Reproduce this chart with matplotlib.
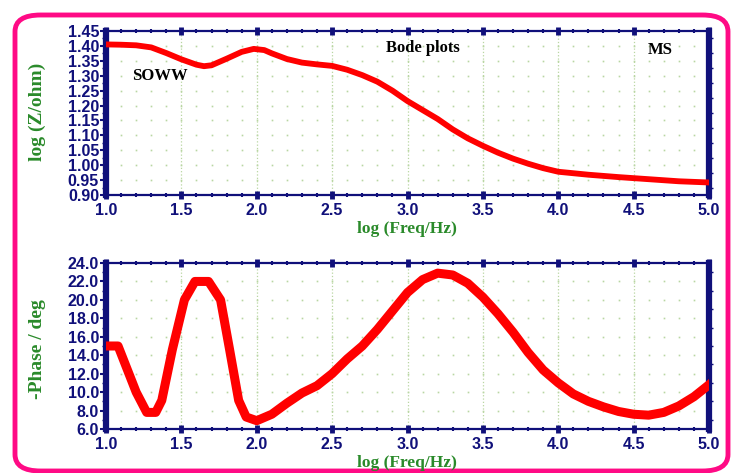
import matplotlib
matplotlib.use('Agg')
import matplotlib.pyplot as plt
import numpy as np
from matplotlib.patches import FancyBboxPatch
from matplotlib.ticker import MultipleLocator, FormatStrFormatter

# impedance modulus, log|Z| vs log f
log_freq_z = [1.0, 1.1, 1.2, 1.3, 1.4, 1.5, 1.6, 1.65, 1.7, 1.8, 1.9, 1.98,
              2.05, 2.1, 2.2, 2.3, 2.4, 2.5, 2.6, 2.7, 2.8, 2.9, 3.0, 3.1,
              3.2, 3.3, 3.4, 3.5, 3.6, 3.7, 3.8, 3.9, 4.0, 4.2, 4.4, 4.6,
              4.8, 5.0]
log_z = [1.405, 1.404, 1.402, 1.395, 1.376, 1.355, 1.337, 1.332, 1.335,
         1.357, 1.380, 1.390, 1.386, 1.375, 1.356, 1.344, 1.338, 1.333,
         1.320, 1.302, 1.280, 1.250, 1.215, 1.185, 1.155, 1.120, 1.090,
         1.065, 1.042, 1.022, 1.005, 0.990, 0.978, 0.968, 0.960, 0.953,
         0.946, 0.942]

# phase angle vs log f
log_freq_ph = [1.0, 1.08, 1.2, 1.27, 1.33, 1.37, 1.44, 1.52, 1.59, 1.68,
               1.76, 1.82, 1.88, 1.93, 2.0, 2.1, 2.2, 2.3, 2.4, 2.5, 2.6,
               2.7, 2.8, 2.9, 3.0, 3.1, 3.2, 3.3, 3.4, 3.5, 3.6, 3.7, 3.8,
               3.9, 4.0, 4.1, 4.2, 4.3, 4.4, 4.5, 4.6, 4.7, 4.8, 4.9, 5.0]
phase = [15.0, 15.0, 10.0, 7.8, 7.8, 9.1, 14.6, 20.0, 22.0, 22.0,
         20.0, 14.6, 9.1, 7.3, 6.9, 7.6, 8.8, 9.9, 10.7, 12.0, 13.6,
         15.0, 16.8, 18.8, 20.8, 22.2, 22.9, 22.7, 21.8, 20.3, 18.5, 16.5,
         14.3, 12.4, 11.0, 9.8, 9.0, 8.4, 7.9, 7.6, 7.5, 7.8, 8.5, 9.5, 10.8]

navy = '#10107a'
green = '#2a8a2a'
dotcol = '#b9d6a2'
pink = '#ff0a85'

plt.rcParams['font.family'] = 'Liberation Sans'
plt.rcParams['font.weight'] = 'bold'

fig = plt.figure(figsize=(7.32, 4.73), dpi=100)

# pink rounded frame around everything (bottom edge sits at the image edge)
frame = FancyBboxPatch((15 / 732, 2 / 473), 713 / 732, 456 / 473,
                       boxstyle="round,pad=0,rounding_size=0.035",
                       transform=fig.transFigure, facecolor='none',
                       edgecolor=pink, linewidth=3.5, clip_on=False)
fig.add_artist(frame)

ax1 = fig.add_axes([106 / 732, 1 - 195 / 473, 603 / 732, 164 / 473])
ax2 = fig.add_axes([106 / 732, 1 - 429 / 473, 603 / 732, 166 / 473])


def style_axes(ax, ymin, ymax, ystep, yminor, fmt):
    ax.set_xlim(1.0, 5.0)
    ax.set_ylim(ymin, ymax)
    ax.xaxis.set_major_locator(MultipleLocator(0.5))
    ax.xaxis.set_minor_locator(MultipleLocator(0.1))
    ax.yaxis.set_major_locator(MultipleLocator(ystep))
    ax.yaxis.set_minor_locator(MultipleLocator(yminor))
    ax.xaxis.set_major_formatter(FormatStrFormatter('%.1f'))
    ax.yaxis.set_major_formatter(FormatStrFormatter(fmt))
    for side in ['left', 'right']:
        ax.spines[side].set_linewidth(4.5)
        ax.spines[side].set_color(navy)
    for side in ['top', 'bottom']:
        ax.spines[side].set_linewidth(1.6)
        ax.spines[side].set_color(navy)
    ax.tick_params(axis='x', which='major', direction='inout', length=6,
                   width=3.5, color=navy, top=True, labelsize=11.5,
                   labelcolor=navy, pad=3)
    ax.tick_params(axis='x', which='minor', direction='inout', length=3,
                   width=1.5, color=navy, top=True)
    ax.tick_params(axis='y', which='major', direction='out', length=4,
                   width=1.5, color=navy, labelsize=11.5, labelcolor=navy, pad=1)
    ax.tick_params(axis='y', which='minor', direction='out', length=3,
                   width=1, color=navy, right=True)
    ax.grid(axis='x', which='major', linestyle=':', color=dotcol, linewidth=0.9)
    # dotted background grid
    xs = np.arange(1.1, 5.0, 0.1)
    ys = np.arange(ymin + ystep, ymax - ystep / 2, ystep)
    gx, gy = np.meshgrid(xs, ys)
    ax.plot(gx.ravel(), gy.ravel(), ls='none', marker='s', ms=1.2,
            color=dotcol, mec='none', zorder=1)


style_axes(ax1, 0.90, 1.45, 0.05, 0.025, '%.2f')
style_axes(ax2, 6.0, 24.0, 2.0, 1.0, '%.1f')

ax1.plot(log_freq_z, log_z, color='#ff0000', linewidth=4.2,
         solid_joinstyle='round', zorder=3)
ax2.plot(log_freq_ph, phase, color='#ff0000', linewidth=6.5,
         solid_joinstyle='round', zorder=3)

serif = 'Liberation Serif'
fig.text(37 / 732, 1 - 112 / 473, 'log (Z/ohm)', rotation=90, ha='center',
         va='center', color=green, fontsize=14, family=serif, weight='bold')
fig.text(37 / 732, 1 - 349 / 473, '-Phase / deg', rotation=90, ha='center',
         va='center', color=green, fontsize=14, family=serif, weight='bold')
fig.text(407 / 732, 1 - 229 / 473, 'log (Freq/Hz)', ha='center', va='center',
         color=green, fontsize=12.5, family=serif, weight='bold')
fig.text(407 / 732, 1 - 463 / 473, 'log (Freq/Hz)', ha='center', va='center',
         color=green, fontsize=12.5, family=serif, weight='bold')

fig.text(423 / 732, 1 - 48 / 473, 'Bode plots', ha='center', va='center',
         color='black', fontsize=12, family=serif, weight='bold')
fig.text(160 / 732, 1 - 76 / 473, 'SOWW', ha='center', va='center',
         color='black', fontsize=12, family=serif, weight='bold')
fig.text(660 / 732, 1 - 50 / 473, 'MS', ha='center', va='center',
         color='black', fontsize=12, family=serif, weight='bold')

fig.savefig('out.png', dpi=100)
